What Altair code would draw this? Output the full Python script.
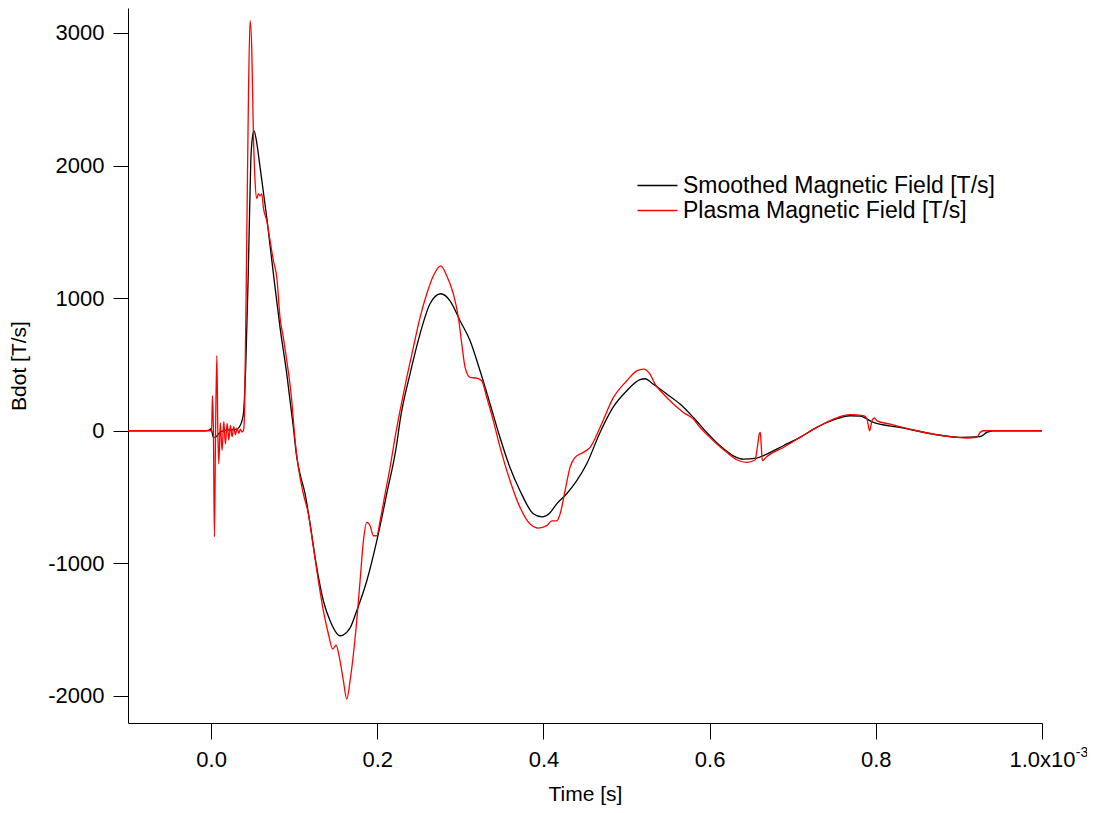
import altair as alt
import pandas as pd

# Time axis values are in units of 1e-3 s
smooth_t = [-0.1, -0.0072, -0.0024, 0.0, 0.0028, 0.006, 0.0088, 0.0148, 0.0309, 0.0349,
            0.0389, 0.0418, 0.0449, 0.0478, 0.0499, 0.0517, 0.0542, 0.059, 0.067, 0.075,
            0.083, 0.0911, 0.099, 0.1031, 0.1071, 0.1131, 0.1191, 0.1272, 0.1351, 0.1432,
            0.1552, 0.1673, 0.1753, 0.1874, 0.1994, 0.2114, 0.2235, 0.2274, 0.2395, 0.2515,
            0.2635, 0.2764, 0.2876, 0.2996, 0.3117, 0.3237, 0.3357, 0.3478, 0.3598, 0.3718,
            0.3878, 0.398, 0.4079, 0.416, 0.428, 0.4401, 0.4521, 0.4681, 0.4841, 0.5003,
            0.5162, 0.5223, 0.5323, 0.5484, 0.5644, 0.5804, 0.5965, 0.6125, 0.6285, 0.6406,
            0.6567, 0.6687, 0.6887, 0.7088, 0.7289, 0.7489, 0.769, 0.781, 0.797, 0.8291,
            0.8692, 0.9013, 0.9254, 0.9334, 0.941, 1.0]
smooth_v = [0, 0, 5, 15, -50, -45, -25, 0, 13, 38,
            128, 505, 1230, 2036, 2220, 2262, 2200, 1985, 1608, 1183,
            778, 427, 25, -200, -327, -475, -701, -1033, -1282, -1433,
            -1546, -1486, -1357, -1131, -830, -475, -98, 75, 430, 731,
            958, 1033, 980, 830, 679, 452, 204, -53, -279, -452,
            -626, -649, -618, -551, -475, -377, -249, -13, 180, 302,
            385, 392, 350, 277, 201, 100, -13, -113, -189, -214,
            -206, -176, -113, -50, 25, 81, 113, 110, 63, 25,
            -25, -50, -45, -13, 0, 0]

plasma_t = [-0.1, -0.0012, 0.0006, 0.0016, 0.0028, 0.004, 0.0054, 0.0069, 0.0081, 0.0093,
            0.0111, 0.0132, 0.0153, 0.0172, 0.0193, 0.0213, 0.0232, 0.0253, 0.0273, 0.0292,
            0.0313, 0.0333, 0.0353, 0.0373, 0.0391, 0.0403, 0.043, 0.0449, 0.0469, 0.049,
            0.0509, 0.0529, 0.055, 0.0569, 0.059, 0.061, 0.0629, 0.067, 0.071, 0.075,
            0.0791, 0.083, 0.087, 0.0911, 0.0971, 0.1011, 0.1051, 0.1111, 0.1171, 0.1231,
            0.1291, 0.1351, 0.1412, 0.1464, 0.1504, 0.1544, 0.1592, 0.1633, 0.1673, 0.1713,
            0.1753, 0.1793, 0.1833, 0.1874, 0.1913, 0.1953, 0.1994, 0.2034, 0.2094, 0.2154,
            0.2214, 0.2274, 0.2355, 0.2434, 0.2515, 0.2595, 0.2675, 0.2764, 0.2836, 0.2916,
            0.2976, 0.3017, 0.3057, 0.3117, 0.3197, 0.3257, 0.3318, 0.3397, 0.3478, 0.3598,
            0.3718, 0.3839, 0.3939, 0.4039, 0.41, 0.416, 0.42, 0.426, 0.432, 0.438,
            0.448, 0.4561, 0.4681, 0.4841, 0.5003, 0.5123, 0.5202, 0.5283, 0.5343, 0.5443,
            0.5564, 0.5684, 0.5804, 0.5884, 0.6045, 0.6206, 0.6326, 0.6446, 0.6546, 0.6574,
            0.6598, 0.661, 0.6622, 0.6634, 0.6687, 0.6887, 0.7088, 0.7289, 0.7489, 0.769,
            0.7854, 0.7894, 0.7925, 0.7954, 0.7982, 0.8014, 0.8171, 0.8492, 0.8812, 0.9094,
            0.9214, 0.9254, 0.9294, 1.0]
plasma_v = [0, 0, 0, 264, 0, -800, 0, 566, 0, -250,
            60, -150, 70, -100, 55, -70, 40, -45, 30, -30,
            20, -20, 12, -10, 5, 150, 1485, 2489, 3092, 2866,
            2240, 1885, 1750, 1787, 1772, 1787, 1682, 1584, 1433, 1282,
            1154, 852, 701, 528, 226, -75, -276, -477, -628, -880,
            -1131, -1357, -1533, -1646, -1616, -1709, -1885, -2024, -1885, -1684,
            -1433, -1131, -830, -691, -716, -792, -792, -679, -477, -276,
            -50, 151, 402, 628, 855, 1031, 1169, 1244, 1169, 1031,
            855, 654, 478, 402, 397, 377, 251, 75, -126, -377,
            -578, -704, -734, -716, -679, -679, -628, -452, -276, -201,
            -163, -126, 25, 250, 377, 452, 465, 427, 352, 277,
            201, 138, 88, 25, -75, -163, -219, -239, -221, -126,
            -25, -13, -120, -226, -196, -126, -50, 25, 88, 121,
            113, 88, 0, 75, 96, 75, 50, 0, -38, -55,
            -50, -13, 0, 0]

series_names = ["Smoothed Magnetic Field [T/s]", "Plasma Magnetic Field [T/s]"]
series_colors = ["#000000", "#ff0000"]
x_ticks = [0.0, 0.2, 0.4, 0.6, 0.8, 1.0]
y_ticks = [-2000, -1000, 0, 1000, 2000, 3000]

df_s = pd.DataFrame({"t": smooth_t, "v": smooth_v, "series": series_names[0]})
df_p = pd.DataFrame({"t": plasma_t, "v": plasma_v, "series": series_names[1]})

FONT = "Liberation Sans"

x_enc = alt.X("t:Q",
              scale=alt.Scale(domain=[-0.1, 1.0], nice=False, zero=False),
              axis=alt.Axis(title="Time [s]", values=x_ticks, tickSize=16, labelPadding=10,
                            labelExpr="datum.value == 1 ? '1.0x10' : format(datum.value, '.1f')",
                            labelFlush=False, labelOverlap=False,
                            titlePadding=13, grid=False, domainColor="black", tickColor="black",
                            labelColor="black", titleColor="black", labelFont=FONT, titleFont=FONT,
                            labelFontSize=22, titleFontSize=21, titleFontWeight="normal",
                            domainWidth=1, tickWidth=1))
y_enc = alt.Y("v:Q",
              scale=alt.Scale(domain=[-2204, 3188], nice=False, zero=False),
              axis=alt.Axis(title="Bdot [T/s]", values=y_ticks, tickSize=15, labelPadding=9,
                            labelExpr="datum.value < 0 ? '-' + format(-datum.value, 'd') : format(datum.value, 'd')",
                            labelFlush=False,
                            titlePadding=18, grid=False, domainColor="black", tickColor="black",
                            labelColor="black", titleColor="black", labelFont=FONT, titleFont=FONT,
                            labelFontSize=22, titleFontSize=21, titleFontWeight="normal",
                            domainWidth=1, tickWidth=1))
color_enc = alt.Color("series:N",
                      scale=alt.Scale(domain=series_names, range=series_colors),
                      legend=alt.Legend(title=None, orient="none", legendX=518, legendY=166,
                                        symbolType="M-2,0H2", symbolSize=400, symbolStrokeWidth=1.3,
                                        labelFont=FONT, labelFontSize=23, labelColor="black",
                                        labelOffset=14, rowPadding=1, padding=0,
                                        labelLimit=500))

line_s = alt.Chart(df_s).mark_line(strokeWidth=1.3, interpolate="monotone").encode(
    x=x_enc, y=y_enc, color=color_enc, order="t:Q")
line_p = alt.Chart(df_p).mark_line(strokeWidth=1.3, interpolate="monotone").encode(
    x=x_enc, y=y_enc, color=color_enc, order="t:Q")

sup = alt.Chart(pd.DataFrame({"t": [1.0], "s": ["-3"]})).mark_text(
    font=FONT, fontSize=14, color="black", dx=40, align="center", baseline="middle"
).encode(x=alt.X("t:Q"), y=alt.value(745), text="s:N")

chart = alt.layer(line_s, line_p, sup).properties(
    width=914, height=715,
    background="white",
    autosize=alt.AutoSizeParams(type="none"),
    padding={"left": 120, "top": 0, "right": 45, "bottom": 82},
).configure_view(stroke=None)

chart.save("out.html", embed_options={"renderer": "svg", "actions": False})
